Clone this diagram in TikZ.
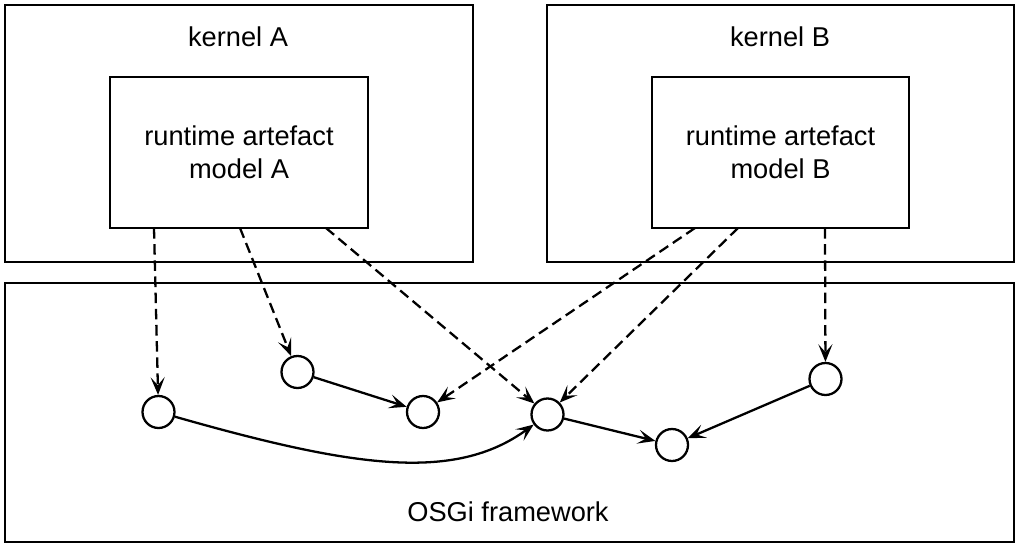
\documentclass[tikz,border=0pt]{standalone}
\usepackage{fontspec}
\setmainfont{Liberation Sans}
\usetikzlibrary{arrows.meta}

\begin{document}
\begin{tikzpicture}[
    line width=1.3pt,
    box/.style={draw,rectangle,inner sep=0pt},
    bundle/.style={draw,circle,minimum size=0.64cm,inner sep=0pt},
    txt/.style={font=\fontsize{15.5}{18.8}\selectfont,align=center},
    uses/.style={-{Stealth[length=10pt,width=8pt,inset=4.5pt]},dash pattern=on 6pt off 3.2pt},
    wire/.style={-{Stealth[length=10pt,width=8pt,inset=4.5pt]}}
]
    \useasboundingbox (0,0) rectangle (20.4,10.96);

    % kernels and framework
    \node[box,minimum width=9.36cm,minimum height=5.14cm] (kerA) at (4.78,8.29) {};
    \node[box,minimum width=9.34cm,minimum height=5.14cm] (kerB) at (15.61,8.29) {};
    \node[box,minimum width=20.18cm,minimum height=5.18cm] (osgi) at (10.19,2.71) {};

    \node[txt,anchor=base] (kerAname) at (4.76,10.02) {kernel A};
    \node[txt,anchor=base] (kerBname) at (15.6,10.02) {kernel B};
    \node[txt,anchor=base] (osginame) at (10.16,0.53) {OSGi framework};

    % artefact models
    \node[box,txt,minimum width=5.16cm,minimum height=3.02cm] (modA) at (4.78,7.91) {runtime artefact\\model A};
    \node[box,txt,minimum width=5.14cm,minimum height=3.02cm] (modB) at (15.61,7.91) {runtime artefact\\model B};

    % bundles
    \node[bundle] (b1) at (3.17,2.72) {};
    \node[bundle] (b2) at (5.95,3.52) {};
    \node[bundle] (b3) at (8.46,2.72) {};
    \node[bundle] (b4) at (10.95,2.67) {};
    \node[bundle] (b5) at (13.44,2.06) {};
    \node[bundle] (b6) at (16.51,3.38) {};

    % where the dashed links leave the models
    \coordinate (a1) at (3.08,6.4);
    \coordinate (a2) at (4.8,6.4);
    \coordinate (a3) at (6.52,6.4);
    \coordinate (m1) at (13.9,6.4);
    \coordinate (m2) at (14.76,6.4);
    \coordinate (m3) at (16.5,6.4);

    \draw[uses] (a1) -- (b1);
    \draw[uses] (a2) -- (b2);
    \draw[uses] (a3) -- (b4);
    \draw[uses] (m1) -- (b3);
    \draw[uses] (m2) -- (b4);
    \draw[uses] (m3) -- (b6);

    % wiring between bundles
    \draw[wire] (b2) -- (b3);
    \draw[wire] (b4) -- (b5);
    \draw[wire] (b6) -- (b5);
    \draw[wire] (b1) .. controls (7.1,1.6) and (9.1,1.32) .. (b4);
\end{tikzpicture}
\end{document}
